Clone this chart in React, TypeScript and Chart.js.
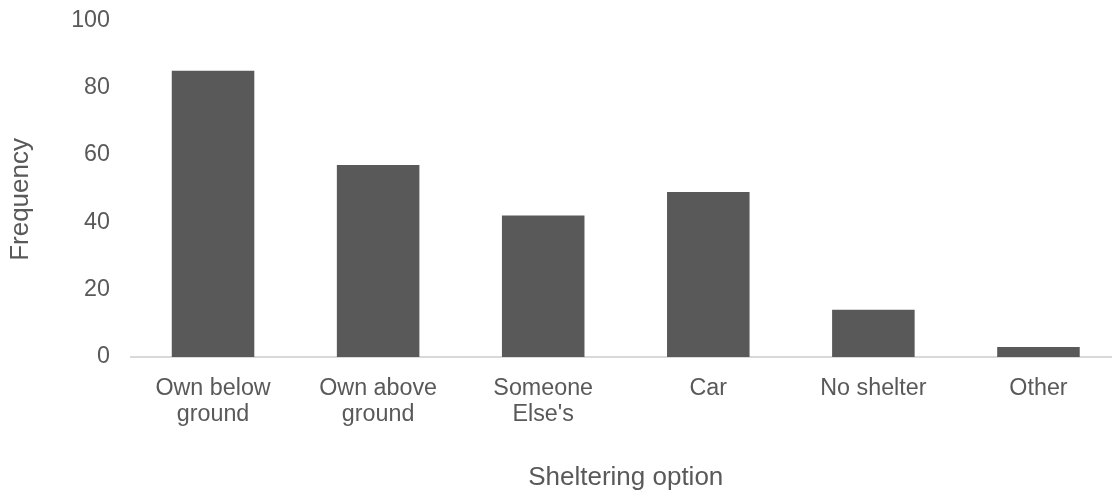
import { useEffect, useRef } from "react";
import { Chart, registerables } from "chart.js";

Chart.register(...registerables);

// Sheltering options and how often each was chosen
const categories: (string | string[])[] = [
  ["Own below", "ground"],
  ["Own above", "ground"],
  ["Someone", "Else's"],
  "Car",
  "No shelter",
  "Other",
];
const frequency: number[] = [85, 57, 42, 49, 14, 3];
const yTicks: number[] = [0, 20, 40, 60, 80, 100];
const xTitle = "Sheltering option";
const yTitle = "Frequency";

const FONT = "'Liberation Sans', Arial, Helvetica, sans-serif";
const TEXT = "#595959";
const BAR = "#595959";
const AXIS = "#d9d9d9";

export default function App() {
  const canvasRef = useRef<HTMLCanvasElement>(null);

  useEffect(() => {
    const canvas = canvasRef.current;
    if (!canvas) return;
    const chart = new Chart(canvas, {
      type: "bar",
      data: {
        labels: categories,
        datasets: [
          {
            data: frequency,
            backgroundColor: BAR,
            borderWidth: 0,
            barPercentage: 0.5,
            categoryPercentage: 1,
          },
        ],
      },
      options: {
        responsive: false,
        animation: false,
        layout: { padding: { top: 20.2, left: 0, right: 0, bottom: 0 } },
        plugins: {
          legend: { display: false },
          tooltip: { enabled: false },
        },
        scales: {
          x: {
            grid: { display: false, drawTicks: false },
            border: { display: true, color: AXIS, width: 2 },
            ticks: {
              color: TEXT,
              font: { family: FONT, size: 23.3, lineHeight: 1.116 },
              padding: 18.6,
              maxRotation: 0,
              minRotation: 0,
              autoSkip: false,
            },
            title: {
              display: true,
              text: xTitle,
              color: TEXT,
              font: { family: FONT, size: 26, lineHeight: 1.2 },
              padding: { top: 0, bottom: 3 },
            },
            afterFit: (scale: any) => {
              scale.height = 139;
            },
          },
          y: {
            min: yTicks[0],
            max: yTicks[yTicks.length - 1],
            afterBuildTicks: (scale: any) => {
              scale.ticks = yTicks.map((v) => ({ value: v }));
            },
            // tick marks are hidden with the grid; their length only spaces the labels
            grid: { display: false, drawTicks: true, tickLength: 20 },
            border: { display: false },
            ticks: {
              color: TEXT,
              font: { family: FONT, size: 23.3, lineHeight: 1.116 },
              padding: 0.5,
            },
            title: {
              display: true,
              // trailing spaces move the rotated title slightly down the axis
              text: yTitle + "   ",
              color: TEXT,
              font: { family: FONT, size: 26, lineHeight: 1.2 },
              padding: { top: 5.7, bottom: 0 },
            },
            afterFit: (scale: any) => {
              scale.width = 130.5;
            },
          },
        },
      },
    });
    return () => chart.destroy();
  }, []);

  return (
    <div
      style={{
        position: "absolute",
        left: 0,
        top: 0,
        width: 1112,
        height: 496,
        overflow: "hidden",
        background: "#ffffff",
      }}
    >
      <canvas ref={canvasRef} width={1121} height={496} style={{ display: "block" }} />
    </div>
  );
}
